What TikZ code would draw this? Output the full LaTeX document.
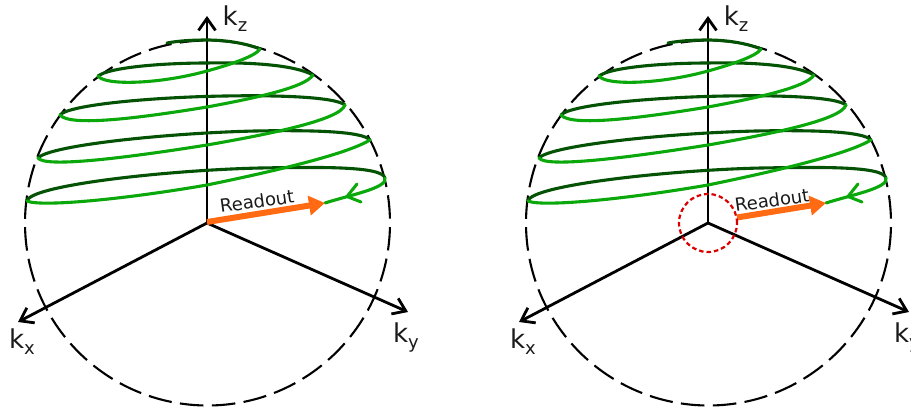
\documentclass[tikz,border=0pt]{standalone}
\usepackage{fontspec}
\setmainfont{DejaVu Sans}
\usetikzlibrary{arrows.meta}
\definecolor{lightg}{HTML}{0BA80B}
\definecolor{darkg}{HTML}{045204}
\definecolor{orng}{HTML}{FF6A13}
\definecolor{txt}{HTML}{1A1A1A}
\tikzset{
  axis/.style={line width=2.8pt,black,-{Straight Barb[length=12pt,width=17pt,line width=2.8pt]}},
  sphere/.style={line width=2.1pt,black,dash pattern=on 23.5pt off 8.35pt,dash phase=27.67pt},
  front/.style={line width=3.1pt,lightg,line cap=round},
  back/.style={line width=3.1pt,darkg,line cap=round},
  readout/.style={line width=6pt,orng,-{Triangle[length=16pt,width=19pt]}},
  lab/.style={font=\fontsize{26}{26}\selectfont,text=txt,inner sep=0pt},
  rolab/.style={font=\fontsize{18}{18}\selectfont,text=txt,inner sep=0pt,rotate=8},
  marker/.style={line width=2.2pt,red!85!black,dash pattern=on 4.5pt off 3pt},
}
\newcommand{\sublab}[1]{k\raisebox{-6pt}{\fontsize{18}{18}\selectfont #1}}
\begin{document}
\begin{tikzpicture}[x=1pt,y=-1pt]
\useasboundingbox (0,0) rectangle (911,410);
\foreach \s/\n/\rx/\ry/\lx/\ly in {0/L/207/222/257/201,501/R/236/217.5/271/200}{
\begin{scope}[xshift=\s pt]
  \coordinate (o\n) at (207,223);
  \coordinate (zt\n) at (207,16);
  \coordinate (xt\n) at (18,322);
  \coordinate (yt\n) at (408,312);
  \coordinate (rs\n) at (\rx,\ry);
  \coordinate (p0\n) at (325,203);
  \coordinate (p1\n) at (385,178);
  \coordinate (p2\n) at (27,201);
  \coordinate (p3\n) at (370,140);
  \coordinate (p4\n) at (38,158);
  \coordinate (p5\n) at (345,105);
  \coordinate (p6\n) at (60,115);
  \coordinate (p7\n) at (313,75);
  \coordinate (p8\n) at (98,76);
  \coordinate (p9\n) at (260,49);
  \coordinate (p10\n) at (167,43);
  % sphere
  \draw[sphere] (207.5,405.5) arc[start angle=90,end angle=450,radius=182.5];
  % axes
  \draw[axis] (o\n) -- (zt\n);
  \draw[axis] (o\n) -- (xt\n);
  \draw[axis] (o\n) -- (yt\n);
  % back arcs
  \draw[back] (p1\n) .. controls (382,166) and (320,167) .. (260,168) .. controls (170,170) and (30,185) .. (p2\n);
  \draw[back] (p3\n) .. controls (362,131) and (310,130) .. (255,131) .. controls (170,133) and (50,145) .. (p4\n);
  \draw[back] (p5\n) .. controls (335,97) and (280,95) .. (225,96) .. controls (160,97) and (70,104) .. (p6\n);
  \draw[back] (p7\n) .. controls (295,65) and (250,62) .. (207,63) .. controls (165,63) and (110,67) .. (p8\n);
  \draw[back] (p9\n) .. controls (245,43) and (225,40) .. (207,40) .. controls (190,40) and (178,41) .. (p10\n);
  % front arcs
  \draw[front] (p0\n) .. controls (350,195) and (388,188) .. (p1\n);
  \draw[front] (p2\n) .. controls (40,207) and (120,200) .. (207,185) .. controls (270,172) and (345,155) .. (p3\n);
  \draw[front] (p4\n) .. controls (45,168) and (125,158) .. (207,145) .. controls (270,134) and (340,120) .. (p5\n);
  \draw[front] (p6\n) .. controls (70,127) and (140,118) .. (207,107) .. controls (250,99) and (305,88) .. (p7\n);
  \draw[front] (p8\n) .. controls (105,86) and (160,84) .. (207,71) .. controls (225,66) and (255,57) .. (p9\n);
  % direction chevron on the spiral
  \coordinate (c0\n) at (347,196.5);
  \coordinate (c1\n) at (357,184);
  \coordinate (c2\n) at (361,202);
  \draw[line width=3pt,lightg,line cap=round] (c1\n) -- (c0\n) -- (c2\n);
  % readout
  \draw[readout] (rs\n) -- (p0\n);
  \node[rolab] (ro\n) at (\lx,\ly) {Readout};
  % labels
  \node[lab] (kz\n) at (235,19) {\sublab{z}};
  \node[lab] (kx\n) at (22,342) {\sublab{x}};
  \node[lab] (ky\n) at (406,337) {\sublab{y}};
\end{scope}
}
\node[draw,circle,marker,minimum size=58pt,inner sep=0pt] (hole) at (708,223) {};
\end{tikzpicture}
\end{document}
